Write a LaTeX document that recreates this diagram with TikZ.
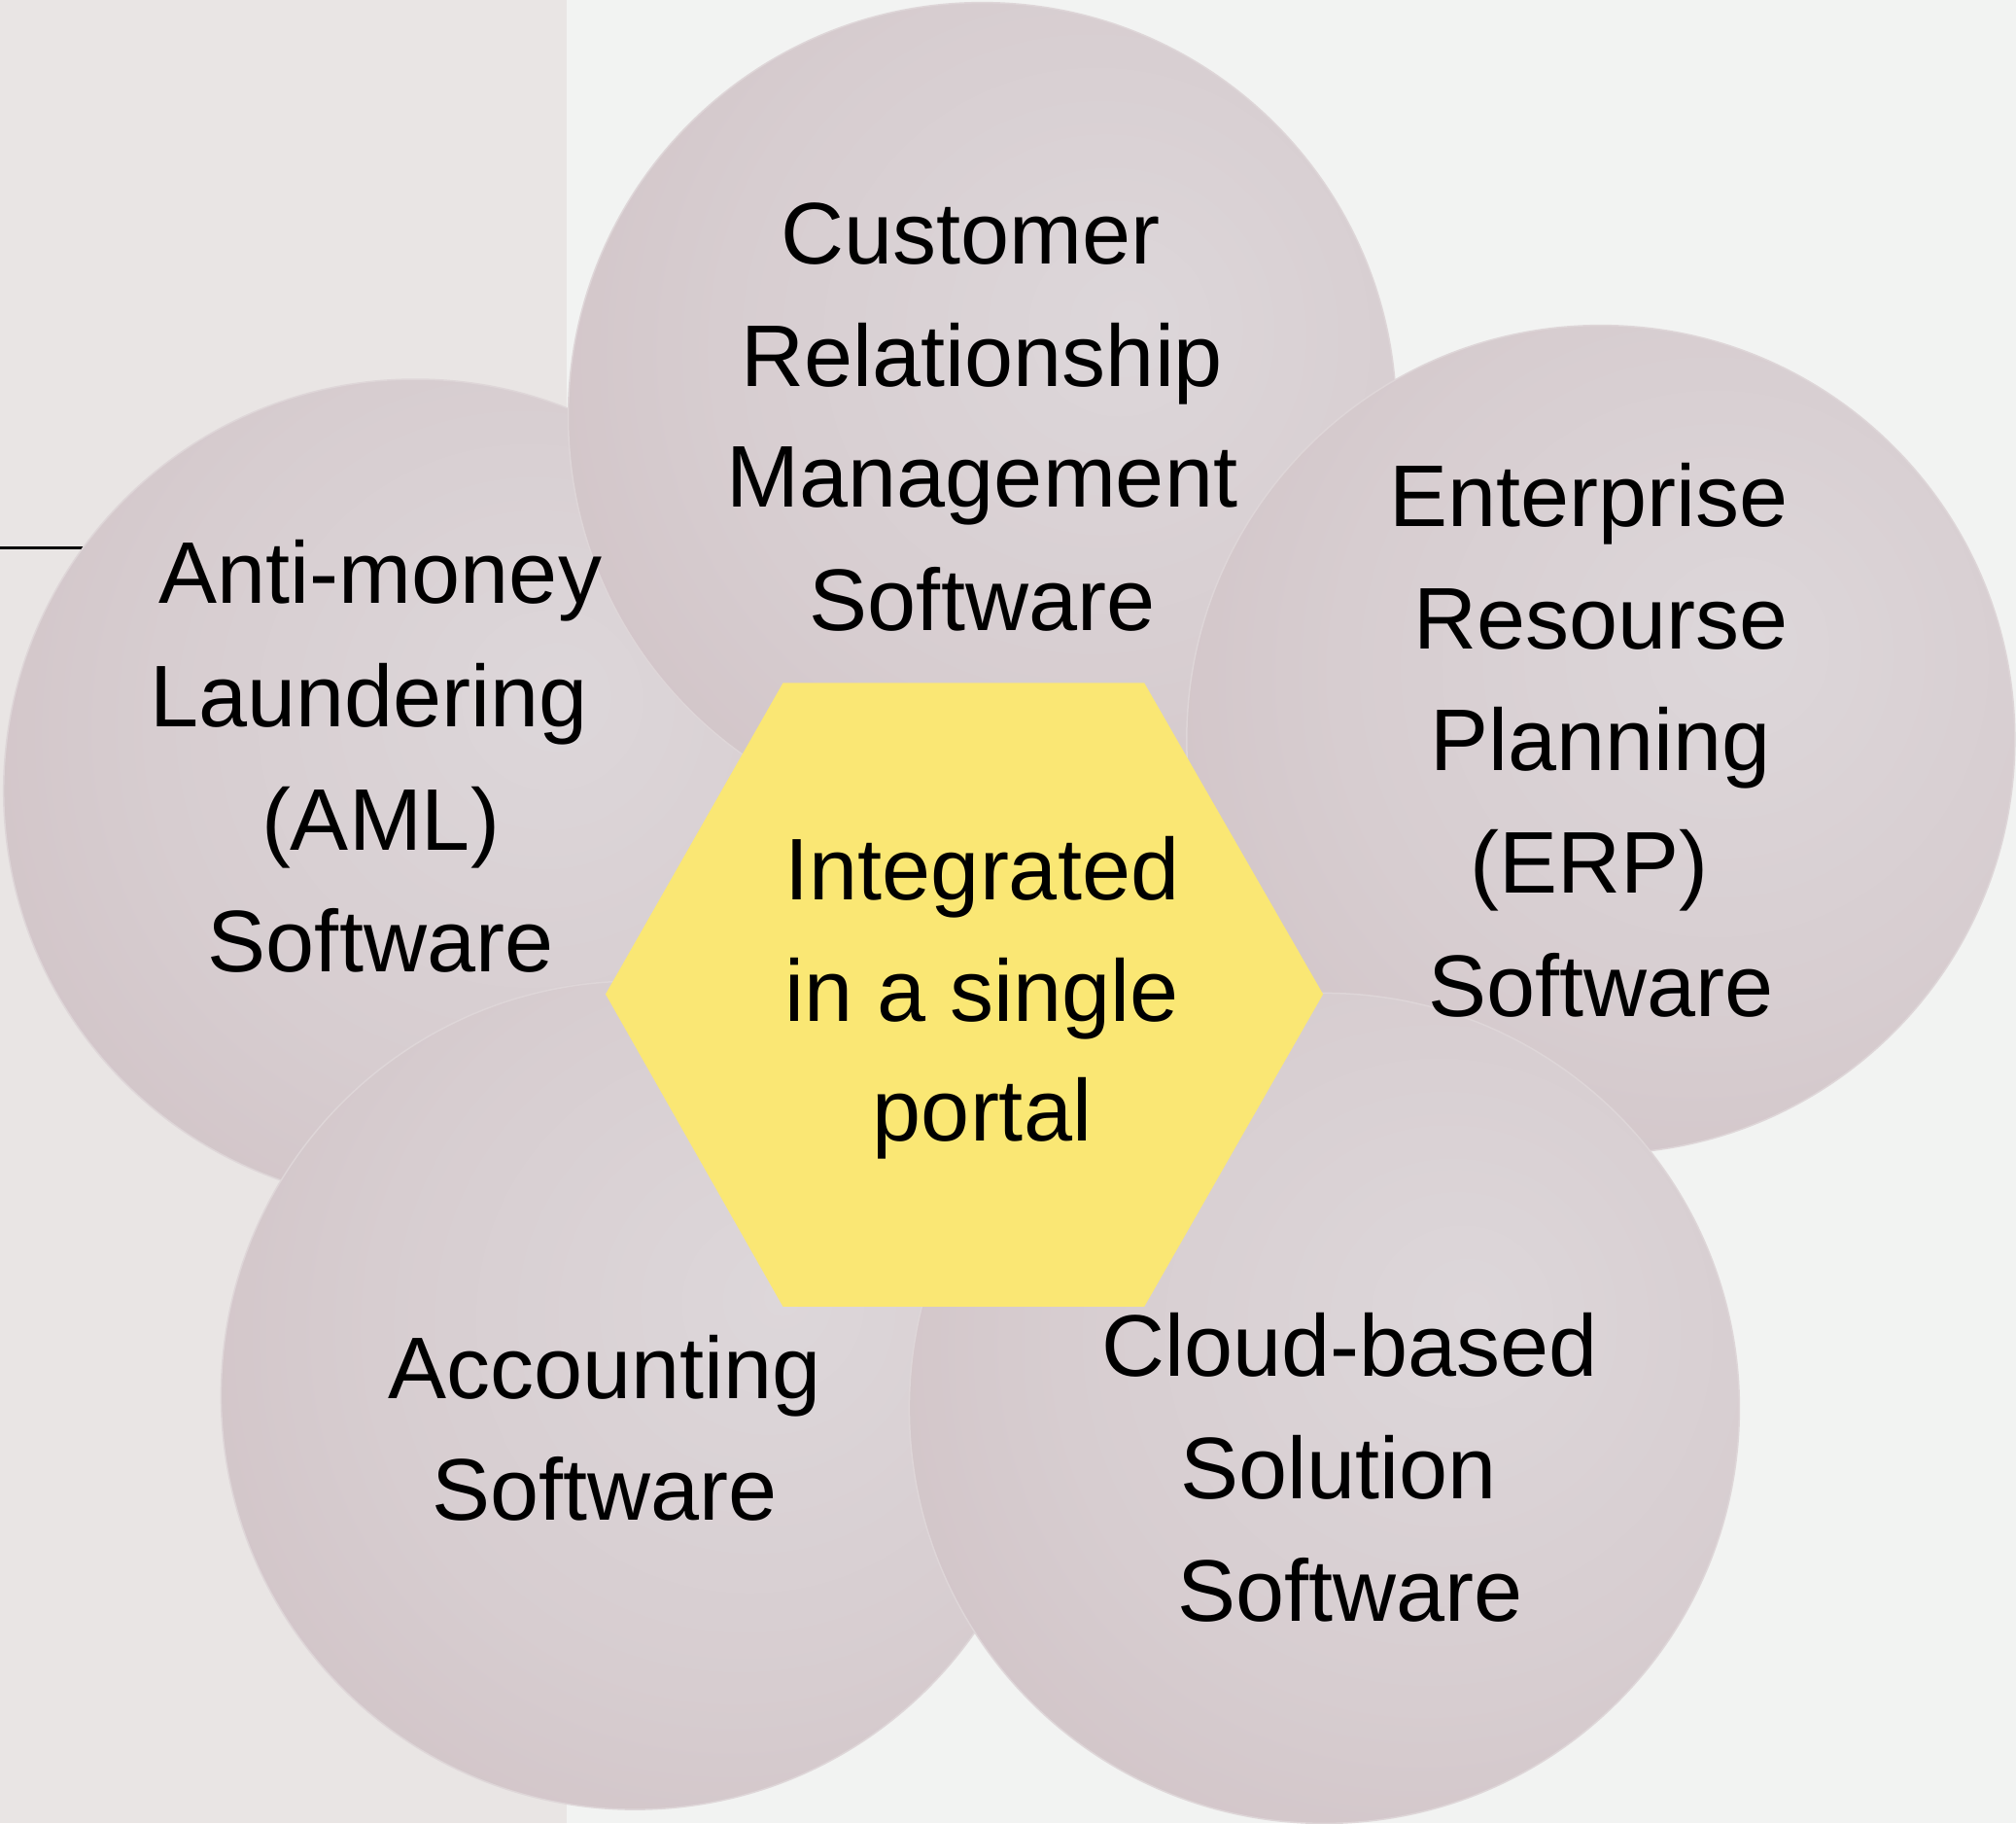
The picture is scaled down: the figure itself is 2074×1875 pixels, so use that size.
\documentclass[tikz,border=0pt]{standalone}
\usepackage{fontspec}
\setmainfont{Liberation Sans}
\definecolor{bgright}{HTML}{F2F3F2}
\definecolor{bgleft}{HTML}{E9E5E4}
\definecolor{hexfill}{HTML}{FAE774}
\definecolor{bubA}{HTML}{DDD7DA}
\definecolor{bubB}{HTML}{D7CDD0}
\definecolor{bubC}{HTML}{CDBCC0}
\definecolor{bubD}{HTML}{C4AFB4}
\definecolor{rim}{HTML}{DED6D8}
\pgfdeclareradialshading{bubble}{\pgfpoint{9bp}{6bp}}{%
  color(0bp)=(bubA); color(22bp)=(bubB); color(45bp)=(bubC); color(58bp)=(bubD); color(70bp)=(bubD)}
\tikzset{
  bub/.style={shading=bubble, draw=rim, line width=1.5pt},
  lbl/.style={anchor=base, inner sep=0pt, font=\fontsize{90}{126}\selectfont, text=black}
}
\begin{document}
\begin{tikzpicture}[x=1pt,y=-1pt]
\useasboundingbox (0,0) rectangle (2074,1875);
\fill[bgright] (0,0) rectangle (2074,1875);
\fill[bgleft] (0,0) rectangle (583,1875);
\coordinate (l1) at (0,563);
\coordinate (l2) at (88,563);
\draw[black, line width=3pt] (l1) -- (l2);

% circles
\path[bub] (427.2,813.5) circle[radius=423.5];
\path[bub] (1010.5,428.6) circle[radius=426];
\path[bub] (1646.8,760.6) circle[radius=426];
\path[bub] (653.4,1435.1) circle[radius=426];
\path[bub] (1362.4,1448.4) circle[radius=427];

% hexagon
\fill[hexfill] (805.5,702.4) -- (1177.2,702.4) -- (1361.1,1022.5) -- (1177.2,1343.9) -- (805.5,1343.9) -- (623,1022.5) -- cycle;

% CRM
\node[lbl] (crm1) at (998.6,271) {Customer};
\node[lbl] (crm2) at (1010.5,397) {Relationship};
\node[lbl] (crm3) at (1010.5,521) {Management};
\node[lbl] (crm4) at (1010.5,648) {Software};
% AML
\node[lbl] (aml1) at (391.5,620.5) {Anti-money};
\node[lbl] (aml2) at (379.6,747.5) {Laundering};
\node[lbl] (aml3) at (391.5,874.5) {(AML)};
\node[lbl] (aml4) at (391.5,999) {Software};
% ERP
\node[lbl] (erp1) at (1634.9,541) {Enterprise};
\node[lbl] (erp2) at (1646.8,667) {Resourse};
\node[lbl] (erp3) at (1646.8,792.5) {Planning};
\node[lbl] (erp4) at (1634.9,918) {(ERP)};
\node[lbl] (erp5) at (1646.8,1045) {Software};
% hex
\node[lbl] (hex1) at (1010.5,925) {Integrated};
\node[lbl] (hex2) at (1010.5,1050.5) {in a single};
\node[lbl] (hex3) at (1010.5,1173.5) {portal};
% Accounting
\node[lbl] (acc1) at (621.7,1438) {Accounting};
\node[lbl] (acc2) at (621.7,1563.5) {Software};
% Cloud
\node[lbl] (cld1) at (1388.8,1415.5) {Cloud-based};
\node[lbl] (cld2) at (1376.9,1541) {Solution};
\node[lbl] (cld3) at (1388.8,1667) {Software};
\end{tikzpicture}
\end{document}
